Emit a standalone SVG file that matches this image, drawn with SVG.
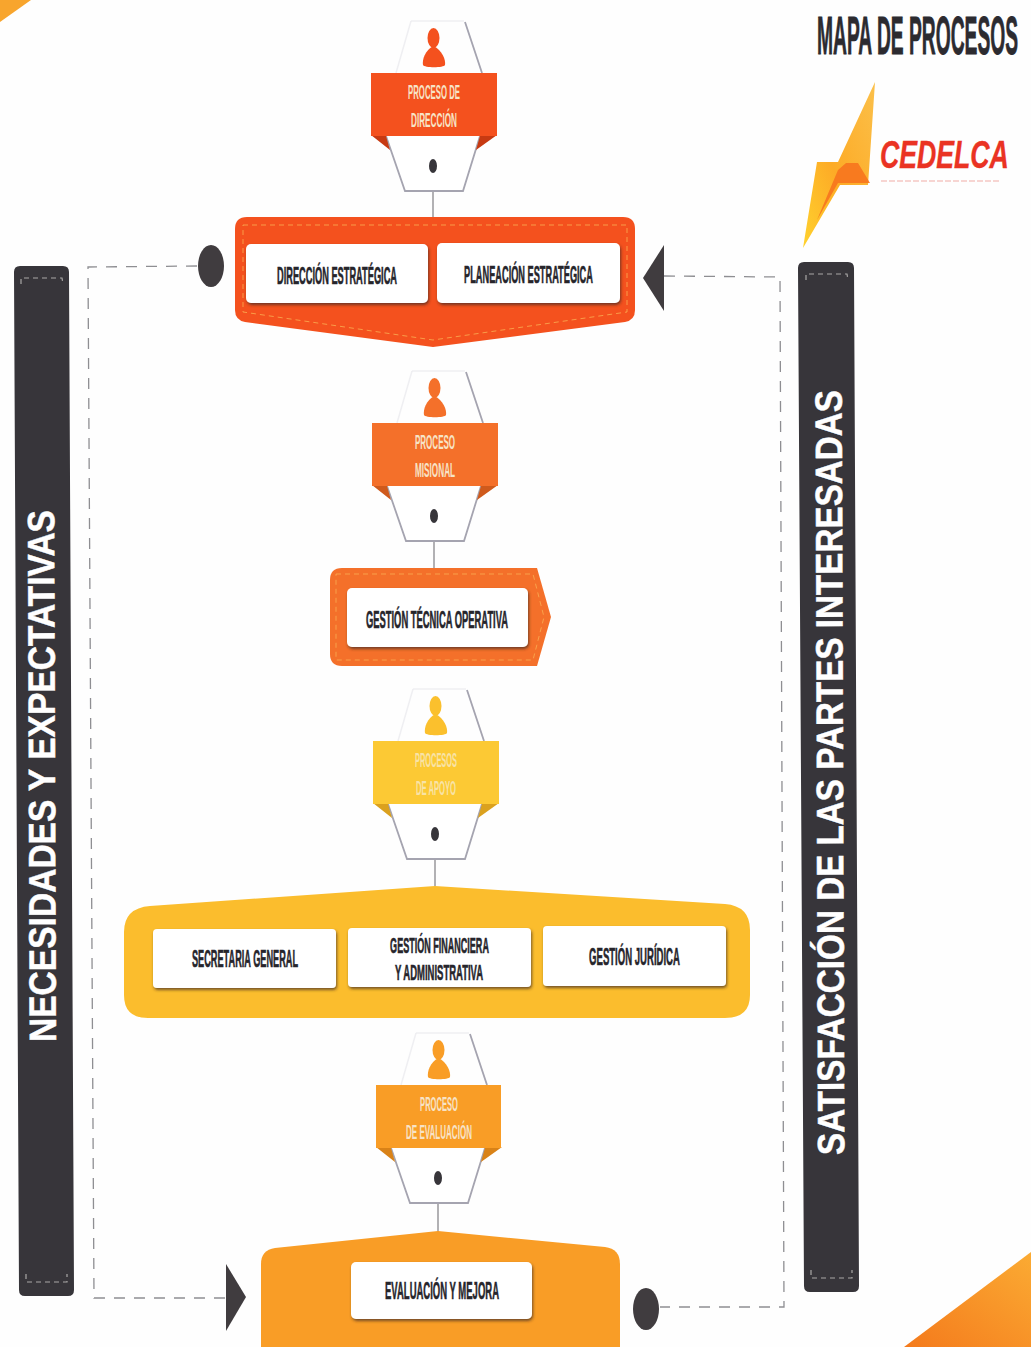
<svg xmlns="http://www.w3.org/2000/svg" width="1031" height="1347" viewBox="0 0 1031 1347">
<style>
text{font-family:"Liberation Sans",Arial,sans-serif;font-weight:700}
.box{fill:#fff;filter:url(#sh)}
.lbl{fill:#26252b;font-size:24px;text-anchor:middle;stroke:#26252b;stroke-width:.6}
.lbl2{font-size:22px}
.band{fill:#f7e3c6;font-size:20px;text-anchor:middle}
.bandy{fill:#f8e3a6}
.bar{fill:#37353a}
.barstitch{fill:none;stroke:#a9a7a6;stroke-width:1.2;stroke-dasharray:5 4}
.bartxt{fill:#fff;font-size:38px;text-anchor:middle;stroke:#fff;stroke-width:.5}
.dash{fill:none;stroke:#8e8e92;stroke-width:1.3;stroke-dasharray:11 9}
.link{fill:none;stroke:#66656b;stroke-width:1}
.mark{fill:#403c3f}
.stitch{fill:none;stroke-width:.9;stroke-dasharray:5 4;stroke-opacity:.75}
.hex{fill:#fff}
.edge{fill:none;stroke:#a5a4b0;stroke-width:1.8}
.faint{fill:none;stroke:#efeff2;stroke-width:1.5}
</style>
<defs>
<filter id="sh" x="-5%" y="-10%" width="110%" height="125%"><feDropShadow dx="1" dy="2" stdDeviation="1.4" flood-color="#3a2a20" flood-opacity=".7"/></filter>
<linearGradient id="bolt" x1="0" y1="1" x2="1" y2="0"><stop offset="0" stop-color="#ffd22e"/><stop offset=".45" stop-color="#fdab26"/><stop offset="1" stop-color="#fbc04a"/></linearGradient>
<linearGradient id="corner" x1="0" y1="1" x2="1" y2="0"><stop offset="0" stop-color="#f47a1c"/><stop offset="1" stop-color="#fbab33"/></linearGradient>
<g id="hexbase">
<path class="faint" d="M411 21H464M411 21L396 73"/>
<path class="edge" d="M465 22L482 73"/>
<path class="hex" d="M386 135H480L463 191H405Z"/>
<path class="edge" d="M386 136L405 191H463L480 136"/>
<ellipse cx="433" cy="166" rx="4" ry="7" fill="#37353a"/>
</g>
<g id="person"><ellipse cx="433.500" cy="38" rx="6" ry="10"/><path d="M433.500 46C425 50 422 60 423 65C424 68 444 68 445 65C446 60 442 50 433.500 46Z"/></g>
</defs>
<rect width="1031" height="1347" fill="#fefefe"/>
<path id="corner-top-left" d="M0 0H31L0 22Z" fill="#f8a52d"/>
<path id="corner-bottom-right" d="M904 1347L1031 1252V1347Z" fill="url(#corner)"/>

<g id="connectors">
<path class="dash" d="M197 266L88 267L94 1298H225"/>
<path class="dash" d="M664 276L780 277L784 1307H660"/>
<path class="link" d="M433 166V218M434 516V568M435 834V886M438 1178V1232"/>
<ellipse class="mark" cx="211" cy="266" rx="13" ry="21"/>
<path class="mark" d="M664 245V311L643 278Z"/>
<path class="mark" d="M226 1264V1331L246 1297Z"/>
<ellipse class="mark" cx="646" cy="1309" rx="13" ry="21"/>
</g>

<g id="bar-necesidades">
<path class="bar" d="M20 266H63Q69 266 69 272L74 1290Q74 1296 68 1296H25Q19 1296 19 1290L14 272Q14 266 20 266Z"/>
<path class="barstitch" d="M21 284V278H62L63 284M26 1274L26 1282H67L67 1274"/>
<text class="bartxt" transform="translate(55 776) rotate(-90.2)" textLength="532" lengthAdjust="spacingAndGlyphs">NECESIDADES Y EXPECTATIVAS</text>
</g>
<g id="bar-satisfaccion">
<path class="bar" d="M804 262H848Q854 262 854 268L859 1286Q859 1292 853 1292H810Q804 1292 804 1286L798 268Q798 262 804 262Z"/>
<path class="barstitch" d="M806 280V274H847L848 280M811 1270L811 1278H852L852 1270"/>
<text class="bartxt" transform="translate(843 772.500) rotate(-90.2)" textLength="765" lengthAdjust="spacingAndGlyphs">SATISFACCIÓN DE LAS PARTES INTERESADAS</text>
</g>

<g id="title"><text transform="translate(817 54) scale(.342 1)" fill="#2c2b30" stroke="#2c2b30" stroke-width=".8" font-size="54" textLength="588" lengthAdjust="spacingAndGlyphs">MAPA DE PROCESOS</text></g>
<g id="logo">
<path d="M875 82L838 162H817L803 248L840 185H868Z" fill="url(#bolt)"/>
<path d="M846 163H858L870 183H838L817 220L838 170Z" fill="#f7741e" opacity=".9"/>
<text transform="translate(880 168) scale(.7 1)" fill="#ea3323" font-size="39" font-style="italic" font-weight="400" stroke="#ea3323" stroke-width=".4" textLength="184" lengthAdjust="spacingAndGlyphs">CEDELCA</text>
<path d="M881 181H1000" stroke="#f7d5d2" stroke-width="2" stroke-dasharray="6 2"/>
</g>

<g id="proceso-direccion">
<use href="#hexbase"/>
<use href="#person" fill="#f4511e"/>
<path d="M371 135L386 136L390 150Z M497 135L480 136L476 150Z" fill="#c73a12"/>
<rect x="371" y="73" width="126" height="63" fill="#f4511e"/>
<text class="band" transform="translate(434 99) scale(.39 1)" textLength="133" lengthAdjust="spacingAndGlyphs">PROCESO DE</text>
<text class="band" transform="translate(434 127) scale(.39 1)" textLength="118" lengthAdjust="spacingAndGlyphs">DIRECCIÓN</text>
</g>
<g id="direccion">
<path d="M247 217H623Q635 217 635 229V310Q635 320 625 322L433 347L245 322Q235 320 235 310V229Q235 217 247 217Z" fill="#f4511e"/>
<path class="stitch" stroke="#fbc15c" d="M243 225H627V312L433 340L243 312Z"/>
<rect class="box" x="246" y="244" width="182" height="59" rx="5"/>
<rect class="box" x="437" y="243" width="183" height="60" rx="5"/>
<text class="lbl" transform="translate(337 284) scale(.38 1)" textLength="316" lengthAdjust="spacingAndGlyphs">DIRECCIÓN ESTRATÉGICA</text>
<text class="lbl" transform="translate(528.500 283) scale(.38 1)" textLength="339" lengthAdjust="spacingAndGlyphs">PLANEACIÓN ESTRATÉGICA</text>
</g>

<g id="proceso-misional" transform="translate(1 350)">
<use href="#hexbase"/>
<use href="#person" fill="#f4702a"/>
<path d="M371 135L386 136L390 150Z M497 135L480 136L476 150Z" fill="#cf5a1c"/>
<rect x="371" y="73" width="126" height="63" fill="#f4702a"/>
<text class="band" transform="translate(434 99) scale(.39 1)" textLength="103" lengthAdjust="spacingAndGlyphs">PROCESO</text>
<text class="band" transform="translate(434 127) scale(.39 1)" textLength="103" lengthAdjust="spacingAndGlyphs">MISIONAL</text>
</g>
<g id="gestion-tecnica">
<path d="M342 568H537L551 617L537 666H342Q330 666 330 654V580Q330 568 342 568Z" fill="#f4702a"/>
<path class="stitch" stroke="#fbb95a" d="M336 574H533L544 617L533 660H336Z"/>
<rect class="box" x="347" y="588" width="181" height="59" rx="5"/>
<text class="lbl" transform="translate(437 628) scale(.38 1)" textLength="374" lengthAdjust="spacingAndGlyphs">GESTIÓN TÉCNICA OPERATIVA</text>
</g>

<g id="procesos-apoyo" transform="translate(2 668)">
<use href="#hexbase"/>
<use href="#person" fill="#fbc02d"/>
<path d="M371 135L386 136L390 150Z M497 135L480 136L476 150Z" fill="#dba11e"/>
<rect x="371" y="73" width="126" height="63" fill="#fcc934"/>
<text class="band bandy" transform="translate(434 99) scale(.39 1)" textLength="108" lengthAdjust="spacingAndGlyphs">PROCESOS</text>
<text class="band bandy" transform="translate(434 127) scale(.39 1)" textLength="103" lengthAdjust="spacingAndGlyphs">DE APOYO</text>
</g>
<g id="apoyo">
<path d="M150 906L435 886L725 904Q750 906 750 930V995Q750 1018 725 1018H150Q124 1019 124 995V932Q124 908 150 906Z" fill="#fbbd2d"/>
<rect class="box" x="153" y="929" width="183" height="59" rx="4"/>
<rect class="box" x="348" y="928" width="183" height="59" rx="4"/>
<rect class="box" x="543" y="926" width="183" height="60" rx="4"/>
<text class="lbl" transform="translate(245 967) scale(.38 1)" textLength="279" lengthAdjust="spacingAndGlyphs">SECRETARIA GENERAL</text>
<text class="lbl lbl2" transform="translate(439.500 953) scale(.38 1)" textLength="260" lengthAdjust="spacingAndGlyphs">GESTIÓN FINANCIERA</text>
<text class="lbl lbl2" transform="translate(439 980) scale(.38 1)" textLength="232" lengthAdjust="spacingAndGlyphs">Y ADMINISTRATIVA</text>
<text class="lbl" transform="translate(634.500 965) scale(.38 1)" textLength="239" lengthAdjust="spacingAndGlyphs">GESTIÓN JURÍDICA</text>
</g>

<g id="proceso-evaluacion" transform="translate(5 1012)">
<use href="#hexbase"/>
<use href="#person" fill="#f99d26"/>
<path d="M371 135L386 136L390 150Z M497 135L480 136L476 150Z" fill="#d98217"/>
<rect x="371" y="73" width="125" height="63" fill="#f99d26"/>
<text class="band" transform="translate(434 99) scale(.39 1)" textLength="97" lengthAdjust="spacingAndGlyphs">PROCESO</text>
<text class="band" transform="translate(434 127) scale(.39 1)" textLength="169" lengthAdjust="spacingAndGlyphs">DE EVALUACIÓN</text>
</g>
<g id="evaluacion">
<path d="M275 1248L438 1231L605 1247Q620 1249 620 1264V1347H261V1264Q261 1250 275 1248Z" fill="#f99d26"/>
<rect class="box" x="351" y="1262" width="181" height="57" rx="5"/>
<text class="lbl" transform="translate(442 1299) scale(.38 1)" textLength="300" lengthAdjust="spacingAndGlyphs">EVALUACIÓN Y MEJORA</text>
</g>
</svg>
